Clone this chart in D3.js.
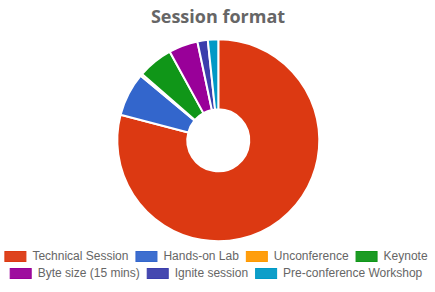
<!DOCTYPE html>
<html>
<head>
<meta charset="utf-8">
<script src="https://cdn.jsdelivr.net/npm/d3@7"></script>
<style>
html,body{margin:0;padding:0;background:#fff;}
svg{display:block;}
</style>
</head>
<body>
<svg id="chart" width="435" height="292"></svg>
<script>
const categories = ["Technical Session","Hands-on Lab","Unconference","Keynote","Byte size (15 mins)","Ignite session","Pre-conference Workshop"];
const values = [238, 21, 1, 17, 14, 5, 5];
const colors = ["#dc3912","#3366cc","#ff9900","#109618","#990099","#3b3eac","#0099c6"];
const title = "Session format";
const legendRows = [[0,1,2,3],[4,5,6]];

const svg = d3.select("#chart");
const W = 435, cx = 218.3, cy = 140.3, R = 101, r = 31;

svg.append("text")
  .attr("x", 218).attr("y", 23)
  .attr("text-anchor","middle")
  .attr("font-family","'Open Sans', sans-serif")
  .attr("font-weight","bold")
  .attr("font-size","18px")
  .attr("fill","#666")
  .text(title);

const data = categories.map((c,i)=>({name:c, value:values[i], color:colors[i]}));
const pie = d3.pie().value(d=>d.value).sort(null);
const arc = d3.arc().innerRadius(r).outerRadius(R);
const g = svg.append("g").attr("transform",`translate(${cx},${cy})`);
g.selectAll("path").data(pie(data)).join("path")
  .attr("d", arc)
  .attr("fill", d=>d.data.color)
  .attr("stroke","#fff")
  .attr("stroke-width",2)
  .attr("stroke-linejoin","round");

const boxW = 22, boxH = 10, gapT = 6, gapI = 7;
const rowY = [256, 273];
const lg = svg.append("g");
legendRows.forEach((row, ri) => {
  const items = row.map(i => {
    const t = lg.append("text")
      .attr("font-family","'Liberation Sans', Arial, sans-serif")
      .attr("font-size","12px")
      .attr("fill","#666")
      .attr("dominant-baseline","central")
      .text(categories[i]);
    return {i, t, w: t.node().getComputedTextLength()};
  });
  const total = d3.sum(items, d => boxW + gapT + d.w) + gapI*(items.length-1);
  let x = 216 - total/2;
  items.forEach(d => {
    lg.append("rect")
      .attr("x", x+0.5).attr("y", rowY[ri]-boxH/2+0.5)
      .attr("width", boxW-1).attr("height", boxH)
      .attr("fill", colors[d.i])
      .attr("fill-opacity", 0.95)
      .attr("stroke", colors[d.i])
      .attr("stroke-width", 1);
    d.t.attr("x", x + boxW + gapT).attr("y", rowY[ri]);
    x += boxW + gapT + d.w + gapI;
  });
});
</script>
</body>
</html>
